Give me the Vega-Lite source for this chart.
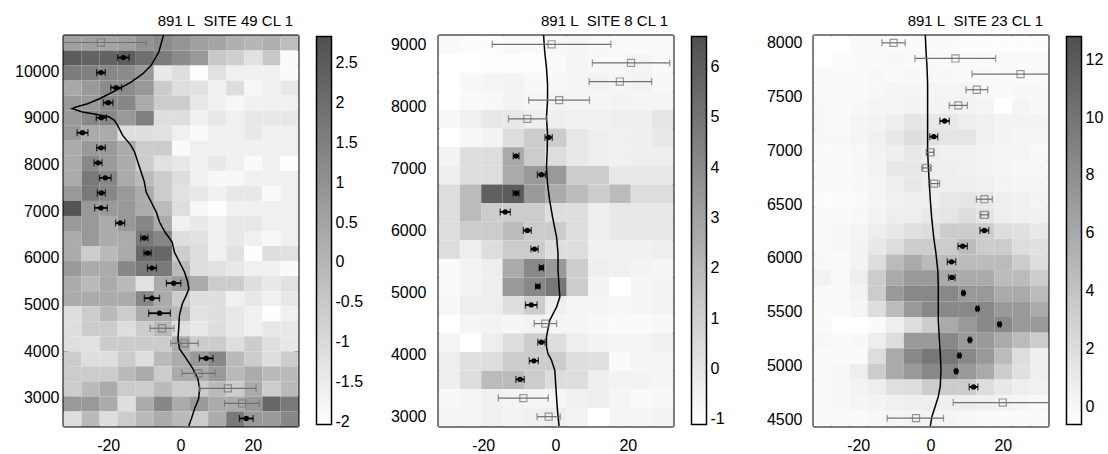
{
"$schema":"https://vega.github.io/schema/vega-lite/v6.json",
"padding":{"left":14,"top":14,"right":0,"bottom":0},
"config":{"font":"Liberation Sans","view":{"stroke":null},
"axis":{"domain":true,"domainColor":"black","domainWidth":2,"grid":false,"tickColor":"black","tickSize":-4,"tickWidth":1.2,"labelFont":"Liberation Sans","labelFontSize":16,"labelColor":"black","zindex":1},
"title":{"fontSize":15,"fontWeight":"normal","anchor":"end","frame":"group","offset":5,"color":"black","font":"Liberation Sans","dx":-5}},
"bounds":"flush","spacing":140,
"resolve":{"scale":{"color":"independent"},"legend":{"color":"independent"}},
"datasets":{
"h1":[
{"x":-30,"y":10618.5,"v":0.6},{"x":-25,"y":10618.5,"v":0.6},{"x":-20,"y":10618.5,"v":0.5},{"x":-15,"y":10618.5,"v":0.6},{"x":-10,"y":10618.5,"v":1.0},{"x":-5,"y":10618.5,"v":1.2},{"x":0,"y":10618.5,"v":0.9},{"x":5,"y":10618.5,"v":0.6},{"x":10,"y":10618.5,"v":0.5},{"x":15,"y":10618.5,"v":0.2},{"x":20,"y":10618.5,"v":0.0},{"x":25,"y":10618.5,"v":0.2},{"x":30,"y":10618.5,"v":-0.2},
{"x":-30,"y":10296,"v":2.5},{"x":-25,"y":10296,"v":2.3},{"x":-20,"y":10296,"v":2.3},{"x":-15,"y":10296,"v":2.4},{"x":-10,"y":10296,"v":2.0},{"x":-5,"y":10296,"v":1.6},{"x":0,"y":10296,"v":1.2},{"x":5,"y":10296,"v":0.8},{"x":10,"y":10296,"v":-0.5},{"x":15,"y":10296,"v":-0.7},{"x":20,"y":10296,"v":-1.2},{"x":25,"y":10296,"v":-0.5},{"x":30,"y":10296,"v":-1.9},
{"x":-30,"y":9973.5,"v":1.6},{"x":-25,"y":9973.5,"v":1.5},{"x":-20,"y":9973.5,"v":1.3},{"x":-15,"y":9973.5,"v":1.2},{"x":-10,"y":9973.5,"v":0.8},{"x":-5,"y":9973.5,"v":-1.4},{"x":0,"y":9973.5,"v":-1.1},{"x":5,"y":9973.5,"v":-2.0},{"x":10,"y":9973.5,"v":-1.2},{"x":15,"y":9973.5,"v":-1.6},{"x":20,"y":9973.5,"v":-1.6},{"x":25,"y":9973.5,"v":-1.6},{"x":30,"y":9973.5,"v":-1.9},
{"x":-30,"y":9651,"v":0.4},{"x":-25,"y":9651,"v":0.8},{"x":-20,"y":9651,"v":1.2},{"x":-15,"y":9651,"v":1.2},{"x":-10,"y":9651,"v":0.8},{"x":-5,"y":9651,"v":-0.6},{"x":0,"y":9651,"v":-1.1},{"x":5,"y":9651,"v":-1.2},{"x":10,"y":9651,"v":-1.6},{"x":15,"y":9651,"v":-1.1},{"x":20,"y":9651,"v":-1.8},{"x":25,"y":9651,"v":-1.6},{"x":30,"y":9651,"v":-1.4},
{"x":-30,"y":9328.5,"v":0.8},{"x":-25,"y":9328.5,"v":0.8},{"x":-20,"y":9328.5,"v":1.3},{"x":-15,"y":9328.5,"v":1.3},{"x":-10,"y":9328.5,"v":0.3},{"x":-5,"y":9328.5,"v":-0.6},{"x":0,"y":9328.5,"v":-0.6},{"x":5,"y":9328.5,"v":-1.4},{"x":10,"y":9328.5,"v":-1.6},{"x":15,"y":9328.5,"v":-1.8},{"x":20,"y":9328.5,"v":-1.6},{"x":25,"y":9328.5,"v":-1.6},{"x":30,"y":9328.5,"v":-1.6},
{"x":-30,"y":9006,"v":0.8},{"x":-25,"y":9006,"v":1.3},{"x":-20,"y":9006,"v":1.3},{"x":-15,"y":9006,"v":0.8},{"x":-10,"y":9006,"v":1.5},{"x":-5,"y":9006,"v":-1.1},{"x":0,"y":9006,"v":-1.1},{"x":5,"y":9006,"v":-1.6},{"x":10,"y":9006,"v":-1.4},{"x":15,"y":9006,"v":-1.6},{"x":20,"y":9006,"v":-1.4},{"x":25,"y":9006,"v":-1.4},{"x":30,"y":9006,"v":-1.4},
{"x":-30,"y":8683.5,"v":0.8},{"x":-25,"y":8683.5,"v":0.3},{"x":-20,"y":8683.5,"v":0.3},{"x":-15,"y":8683.5,"v":-1.1},{"x":-10,"y":8683.5,"v":-1.1},{"x":-5,"y":8683.5,"v":-1.2},{"x":0,"y":8683.5,"v":-1.6},{"x":5,"y":8683.5,"v":-1.9},{"x":10,"y":8683.5,"v":-1.6},{"x":15,"y":8683.5,"v":-1.6},{"x":20,"y":8683.5,"v":-1.4},{"x":25,"y":8683.5,"v":-1.6},{"x":30,"y":8683.5,"v":-1.6},
{"x":-30,"y":8361,"v":0.3},{"x":-25,"y":8361,"v":0.8},{"x":-20,"y":8361,"v":0.8},{"x":-15,"y":8361,"v":0.3},{"x":-10,"y":8361,"v":-0.6},{"x":-5,"y":8361,"v":-0.6},{"x":0,"y":8361,"v":-1.9},{"x":5,"y":8361,"v":-1.6},{"x":10,"y":8361,"v":-1.6},{"x":15,"y":8361,"v":-1.6},{"x":20,"y":8361,"v":-1.6},{"x":25,"y":8361,"v":-1.6},{"x":30,"y":8361,"v":-1.6},
{"x":-30,"y":8038.5,"v":0.3},{"x":-25,"y":8038.5,"v":1.3},{"x":-20,"y":8038.5,"v":0.8},{"x":-15,"y":8038.5,"v":0.3},{"x":-10,"y":8038.5,"v":-0.6},{"x":-5,"y":8038.5,"v":-1.2},{"x":0,"y":8038.5,"v":-1.4},{"x":5,"y":8038.5,"v":-1.6},{"x":10,"y":8038.5,"v":-1.4},{"x":15,"y":8038.5,"v":-1.6},{"x":20,"y":8038.5,"v":-1.9},{"x":25,"y":8038.5,"v":-1.6},{"x":30,"y":8038.5,"v":-2.0},
{"x":-30,"y":7716,"v":0.3},{"x":-25,"y":7716,"v":1.7},{"x":-20,"y":7716,"v":1.3},{"x":-15,"y":7716,"v":0.3},{"x":-10,"y":7716,"v":-0.1},{"x":-5,"y":7716,"v":-0.6},{"x":0,"y":7716,"v":-1.1},{"x":5,"y":7716,"v":-1.6},{"x":10,"y":7716,"v":-1.8},{"x":15,"y":7716,"v":-1.8},{"x":20,"y":7716,"v":-1.6},{"x":25,"y":7716,"v":-1.6},{"x":30,"y":7716,"v":-1.6},
{"x":-30,"y":7393.5,"v":0.8},{"x":-25,"y":7393.5,"v":1.7},{"x":-20,"y":7393.5,"v":1.3},{"x":-15,"y":7393.5,"v":0.8},{"x":-10,"y":7393.5,"v":0.3},{"x":-5,"y":7393.5,"v":-0.6},{"x":0,"y":7393.5,"v":-1.2},{"x":5,"y":7393.5,"v":-1.4},{"x":10,"y":7393.5,"v":-1.6},{"x":15,"y":7393.5,"v":-1.4},{"x":20,"y":7393.5,"v":-1.4},{"x":25,"y":7393.5,"v":-1.9},{"x":30,"y":7393.5,"v":-1.6},
{"x":-30,"y":7071,"v":2.7},{"x":-25,"y":7071,"v":0.8},{"x":-20,"y":7071,"v":0.8},{"x":-15,"y":7071,"v":0.8},{"x":-10,"y":7071,"v":0.3},{"x":-5,"y":7071,"v":-0.1},{"x":0,"y":7071,"v":-1.1},{"x":5,"y":7071,"v":-1.8},{"x":10,"y":7071,"v":-2.0},{"x":15,"y":7071,"v":-1.6},{"x":20,"y":7071,"v":-1.6},{"x":25,"y":7071,"v":-1.6},{"x":30,"y":7071,"v":-1.6},
{"x":-30,"y":6748.5,"v":0.8},{"x":-25,"y":6748.5,"v":0.8},{"x":-20,"y":6748.5,"v":0.3},{"x":-15,"y":6748.5,"v":0.8},{"x":-10,"y":6748.5,"v":1.3},{"x":-5,"y":6748.5,"v":0.3},{"x":0,"y":6748.5,"v":-1.6},{"x":5,"y":6748.5,"v":-1.4},{"x":10,"y":6748.5,"v":-1.6},{"x":15,"y":6748.5,"v":-1.4},{"x":20,"y":6748.5,"v":-1.4},{"x":25,"y":6748.5,"v":-1.6},{"x":30,"y":6748.5,"v":-1.6},
{"x":-30,"y":6426,"v":0.3},{"x":-25,"y":6426,"v":0.8},{"x":-20,"y":6426,"v":0.3},{"x":-15,"y":6426,"v":0.3},{"x":-10,"y":6426,"v":1.7},{"x":-5,"y":6426,"v":1.3},{"x":0,"y":6426,"v":-1.1},{"x":5,"y":6426,"v":-1.2},{"x":10,"y":6426,"v":-1.6},{"x":15,"y":6426,"v":-1.4},{"x":20,"y":6426,"v":-1.6},{"x":25,"y":6426,"v":-1.8},{"x":30,"y":6426,"v":-1.6},
{"x":-30,"y":6103.5,"v":0.3},{"x":-25,"y":6103.5,"v":-0.6},{"x":-20,"y":6103.5,"v":-0.1},{"x":-15,"y":6103.5,"v":0.3},{"x":-10,"y":6103.5,"v":2.2},{"x":-5,"y":6103.5,"v":2.2},{"x":0,"y":6103.5,"v":-0.6},{"x":5,"y":6103.5,"v":-1.1},{"x":10,"y":6103.5,"v":-1.6},{"x":15,"y":6103.5,"v":-1.2},{"x":20,"y":6103.5,"v":-2.0},{"x":25,"y":6103.5,"v":-1.1},{"x":30,"y":6103.5,"v":-1.2},
{"x":-30,"y":5781,"v":0.8},{"x":-25,"y":5781,"v":0.3},{"x":-20,"y":5781,"v":0.3},{"x":-15,"y":5781,"v":1.3},{"x":-10,"y":5781,"v":1.7},{"x":-5,"y":5781,"v":1.7},{"x":0,"y":5781,"v":-0.1},{"x":5,"y":5781,"v":-1.1},{"x":10,"y":5781,"v":-1.2},{"x":15,"y":5781,"v":-1.4},{"x":20,"y":5781,"v":-1.6},{"x":25,"y":5781,"v":-1.6},{"x":30,"y":5781,"v":-1.9},
{"x":-30,"y":5458.5,"v":0.3},{"x":-25,"y":5458.5,"v":-0.1},{"x":-20,"y":5458.5,"v":0.3},{"x":-15,"y":5458.5,"v":-0.1},{"x":-10,"y":5458.5,"v":-1.2},{"x":-5,"y":5458.5,"v":0.3},{"x":0,"y":5458.5,"v":0.8},{"x":5,"y":5458.5,"v":0.3},{"x":10,"y":5458.5,"v":-0.6},{"x":15,"y":5458.5,"v":-0.6},{"x":20,"y":5458.5,"v":-1.1},{"x":25,"y":5458.5,"v":-1.4},{"x":30,"y":5458.5,"v":-1.2},
{"x":-30,"y":5136,"v":0.3},{"x":-25,"y":5136,"v":0.3},{"x":-20,"y":5136,"v":0.3},{"x":-15,"y":5136,"v":0.3},{"x":-10,"y":5136,"v":1.3},{"x":-5,"y":5136,"v":0.3},{"x":0,"y":5136,"v":-0.6},{"x":5,"y":5136,"v":-1.1},{"x":10,"y":5136,"v":-1.1},{"x":15,"y":5136,"v":-1.6},{"x":20,"y":5136,"v":-1.4},{"x":25,"y":5136,"v":-1.6},{"x":30,"y":5136,"v":-1.4},
{"x":-30,"y":4813.5,"v":-1.1},{"x":-25,"y":4813.5,"v":-0.6},{"x":-20,"y":4813.5,"v":-0.1},{"x":-15,"y":4813.5,"v":-0.6},{"x":-10,"y":4813.5,"v":0.3},{"x":-5,"y":4813.5,"v":0.3},{"x":0,"y":4813.5,"v":-0.1},{"x":5,"y":4813.5,"v":-1.2},{"x":10,"y":4813.5,"v":-1.1},{"x":15,"y":4813.5,"v":-1.4},{"x":20,"y":4813.5,"v":-1.6},{"x":25,"y":4813.5,"v":-2.0},{"x":30,"y":4813.5,"v":-1.6},
{"x":-30,"y":4491,"v":-1.1},{"x":-25,"y":4491,"v":-0.6},{"x":-20,"y":4491,"v":-0.6},{"x":-15,"y":4491,"v":-1.1},{"x":-10,"y":4491,"v":-0.6},{"x":-5,"y":4491,"v":-0.1},{"x":0,"y":4491,"v":-1.1},{"x":5,"y":4491,"v":-1.4},{"x":10,"y":4491,"v":-1.1},{"x":15,"y":4491,"v":-1.4},{"x":20,"y":4491,"v":-1.6},{"x":25,"y":4491,"v":-1.4},{"x":30,"y":4491,"v":-1.4},
{"x":-30,"y":4168.5,"v":-1.1},{"x":-25,"y":4168.5,"v":-1.2},{"x":-20,"y":4168.5,"v":-0.6},{"x":-15,"y":4168.5,"v":-0.6},{"x":-10,"y":4168.5,"v":-0.6},{"x":-5,"y":4168.5,"v":-0.6},{"x":0,"y":4168.5,"v":0.3},{"x":5,"y":4168.5,"v":-0.6},{"x":10,"y":4168.5,"v":-0.6},{"x":15,"y":4168.5,"v":-1.1},{"x":20,"y":4168.5,"v":-0.6},{"x":25,"y":4168.5,"v":-1.1},{"x":30,"y":4168.5,"v":-1.4},
{"x":-30,"y":3846,"v":-0.6},{"x":-25,"y":3846,"v":-1.1},{"x":-20,"y":3846,"v":-1.1},{"x":-15,"y":3846,"v":-0.6},{"x":-10,"y":3846,"v":-1.1},{"x":-5,"y":3846,"v":-0.1},{"x":0,"y":3846,"v":0.3},{"x":5,"y":3846,"v":0.8},{"x":10,"y":3846,"v":1.3},{"x":15,"y":3846,"v":-0.1},{"x":20,"y":3846,"v":-0.6},{"x":25,"y":3846,"v":-1.1},{"x":30,"y":3846,"v":-0.6},
{"x":-30,"y":3523.5,"v":-0.6},{"x":-25,"y":3523.5,"v":-0.6},{"x":-20,"y":3523.5,"v":-0.6},{"x":-15,"y":3523.5,"v":-0.1},{"x":-10,"y":3523.5,"v":0.3},{"x":-5,"y":3523.5,"v":-0.6},{"x":0,"y":3523.5,"v":0.3},{"x":5,"y":3523.5,"v":0.3},{"x":10,"y":3523.5,"v":0.8},{"x":15,"y":3523.5,"v":-0.1},{"x":20,"y":3523.5,"v":0.3},{"x":25,"y":3523.5,"v":-0.1},{"x":30,"y":3523.5,"v":-0.1},
{"x":-30,"y":3201,"v":-0.6},{"x":-25,"y":3201,"v":-0.1},{"x":-20,"y":3201,"v":0.3},{"x":-15,"y":3201,"v":-0.6},{"x":-10,"y":3201,"v":-0.6},{"x":-5,"y":3201,"v":-0.1},{"x":0,"y":3201,"v":-0.6},{"x":5,"y":3201,"v":-0.6},{"x":10,"y":3201,"v":-0.1},{"x":15,"y":3201,"v":-0.6},{"x":20,"y":3201,"v":0.3},{"x":25,"y":3201,"v":-0.6},{"x":30,"y":3201,"v":-0.1},
{"x":-30,"y":2878.5,"v":0.8},{"x":-25,"y":2878.5,"v":0.8},{"x":-20,"y":2878.5,"v":0.3},{"x":-15,"y":2878.5,"v":-1.1},{"x":-10,"y":2878.5,"v":0.3},{"x":-5,"y":2878.5,"v":1.3},{"x":0,"y":2878.5,"v":0.3},{"x":5,"y":2878.5,"v":0.8},{"x":10,"y":2878.5,"v":0.3},{"x":15,"y":2878.5,"v":0.3},{"x":20,"y":2878.5,"v":0.8},{"x":25,"y":2878.5,"v":2.2},{"x":30,"y":2878.5,"v":1.7},
{"x":-30,"y":2556,"v":-1.1},{"x":-25,"y":2556,"v":-0.1},{"x":-20,"y":2556,"v":-1.1},{"x":-15,"y":2556,"v":-0.6},{"x":-10,"y":2556,"v":-0.1},{"x":-5,"y":2556,"v":0.3},{"x":0,"y":2556,"v":-0.1},{"x":5,"y":2556,"v":-0.6},{"x":10,"y":2556,"v":0.3},{"x":15,"y":2556,"v":1.7},{"x":20,"y":2556,"v":0.8},{"x":25,"y":2556,"v":0.8},{"x":30,"y":2556,"v":1.3}
],
"p1":[
{"y":10618.5,"x":-22.0,"lo":-34.5,"hi":-9.5,"t":"o"},
{"y":10296,"x":-15.8,"lo":-17.4,"hi":-14.2,"t":"f"},
{"y":9973.5,"x":-22.0,"lo":-23.2,"hi":-20.8,"t":"f"},
{"y":9651,"x":-17.8,"lo":-19.3,"hi":-16.3,"t":"f"},
{"y":9328.5,"x":-20.0,"lo":-21.3,"hi":-18.7,"t":"f"},
{"y":9006,"x":-21.9,"lo":-23.3,"hi":-20.5,"t":"f"},
{"y":8683.5,"x":-27.1,"lo":-28.6,"hi":-25.6,"t":"f"},
{"y":8361,"x":-22.0,"lo":-23.2,"hi":-20.8,"t":"f"},
{"y":8038.5,"x":-22.8,"lo":-23.9,"hi":-21.7,"t":"f"},
{"y":7716,"x":-20.8,"lo":-22.4,"hi":-19.2,"t":"f"},
{"y":7393.5,"x":-21.9,"lo":-23.0,"hi":-20.8,"t":"f"},
{"y":7071,"x":-22.0,"lo":-23.75,"hi":-20.25,"t":"f"},
{"y":6748.5,"x":-16.7,"lo":-17.95,"hi":-15.45,"t":"f"},
{"y":6426,"x":-10.0,"lo":-11.0,"hi":-9.0,"t":"f"},
{"y":6103.5,"x":-9.1,"lo":-10.1,"hi":-8.1,"t":"f"},
{"y":5781,"x":-7.9,"lo":-9.15,"hi":-6.65,"t":"f"},
{"y":5458.5,"x":-1.9,"lo":-3.9,"hi":0.1,"t":"f"},
{"y":5136,"x":-7.9,"lo":-10.0,"hi":-5.8,"t":"f"},
{"y":4813.5,"x":-5.8,"lo":-8.8,"hi":-2.8,"t":"f"},
{"y":4491,"x":-5.1,"lo":-8.4,"hi":-1.8,"t":"o"},
{"y":4168.5,"x":1.1,"lo":-2.7,"hi":4.9,"t":"o"},
{"y":3846,"x":7.1,"lo":5.2,"hi":9.0,"t":"f"},
{"y":3523.5,"x":5.0,"lo":0.4,"hi":9.6,"t":"o"},
{"y":3201,"x":13.1,"lo":5.3,"hi":20.9,"t":"o"},
{"y":2878.5,"x":17.0,"lo":12.2,"hi":21.8,"t":"o"},
{"y":2556,"x":18.2,"lo":16.3,"hi":20.1,"t":"f"}
],
"c1":[
{"y":10780,"x":-4.7},{"y":10415,"x":-6.0},{"y":10129,"x":-8.1},{"y":9950,"x":-10.4},{"y":9771,"x":-13.7},{"y":9628,"x":-16.9},{"y":9413,"x":-22.4},{"y":9306,"x":-25.7},{"y":9235,"x":-28.9},{"y":9199,"x":-30.0},{"y":9128,"x":-27.1},{"y":9078,"x":-23.4},{"y":9021,"x":-19.7},{"y":8950,"x":-18.3},{"y":8842,"x":-17.4},{"y":8627,"x":-16.0},{"y":8413,"x":-13.7},{"y":8270,"x":-12.7},{"y":8056,"x":-11.8},{"y":7841,"x":-10.9},{"y":7627,"x":-10.0},{"y":7412,"x":-9.5},{"y":7198,"x":-8.1},{"y":6983,"x":-6.7},{"y":6769,"x":-5.8},{"y":6554,"x":-4.3},{"y":6340,"x":-2.3},{"y":6125,"x":-1.7},{"y":5911,"x":-0.3},{"y":5697,"x":1.1},{"y":5482,"x":2.0},{"y":5339,"x":2.3},{"y":5196,"x":1.6},{"y":5017,"x":0.5},{"y":4768,"x":-0.3},{"y":4482,"x":-0.5},{"y":4267,"x":-0.7},{"y":4053,"x":-0.3},{"y":3838,"x":1.6},{"y":3624,"x":3.4},{"y":3409,"x":4.8},{"y":3195,"x":5.3},{"y":2980,"x":5.0},{"y":2766,"x":3.9},{"y":2551,"x":3.0},{"y":2394,"x":2.3}
],
"h2":[
{"x":-29.545,"y":9000,"v":-0.88},{"x":-23.636,"y":9000,"v":-0.97},{"x":-17.727,"y":9000,"v":-0.97},{"x":-11.818,"y":9000,"v":-0.79},{"x":-5.909,"y":9000,"v":-0.88},{"x":0,"y":9000,"v":-0.79},{"x":5.909,"y":9000,"v":-0.66},{"x":11.818,"y":9000,"v":-0.79},{"x":17.727,"y":9000,"v":-0.88},{"x":23.636,"y":9000,"v":-0.88},{"x":29.545,"y":9000,"v":-0.88},
{"x":-29.545,"y":8700,"v":-1.1},{"x":-23.636,"y":8700,"v":-1.1},{"x":-17.727,"y":8700,"v":-1.0},{"x":-11.818,"y":8700,"v":-1.0},{"x":-5.909,"y":8700,"v":-1.0},{"x":0,"y":8700,"v":-0.88},{"x":5.909,"y":8700,"v":-0.66},{"x":11.818,"y":8700,"v":-0.79},{"x":17.727,"y":8700,"v":-0.79},{"x":23.636,"y":8700,"v":-0.66},{"x":29.545,"y":8700,"v":-0.88},
{"x":-29.545,"y":8400,"v":-1.1},{"x":-23.636,"y":8400,"v":-0.79},{"x":-17.727,"y":8400,"v":-0.66},{"x":-11.818,"y":8400,"v":-0.57},{"x":-5.909,"y":8400,"v":-0.79},{"x":0,"y":8400,"v":-0.79},{"x":5.909,"y":8400,"v":-0.66},{"x":11.818,"y":8400,"v":-0.57},{"x":17.727,"y":8400,"v":-0.66},{"x":23.636,"y":8400,"v":-0.57},{"x":29.545,"y":8400,"v":-0.79},
{"x":-29.545,"y":8100,"v":-1.1},{"x":-23.636,"y":8100,"v":-0.88},{"x":-17.727,"y":8100,"v":-0.79},{"x":-11.818,"y":8100,"v":-0.57},{"x":-5.909,"y":8100,"v":-0.66},{"x":0,"y":8100,"v":-0.57},{"x":5.909,"y":8100,"v":-0.66},{"x":11.818,"y":8100,"v":-0.66},{"x":17.727,"y":8100,"v":-0.57},{"x":23.636,"y":8100,"v":-0.66},{"x":29.545,"y":8100,"v":-0.66},
{"x":-29.545,"y":7800,"v":-0.79},{"x":-23.636,"y":7800,"v":-0.44},{"x":-17.727,"y":7800,"v":-0.09},{"x":-11.818,"y":7800,"v":-0.09},{"x":-5.909,"y":7800,"v":-0.35},{"x":0,"y":7800,"v":-0.35},{"x":5.909,"y":7800,"v":-0.44},{"x":11.818,"y":7800,"v":-0.44},{"x":17.727,"y":7800,"v":-0.35},{"x":23.636,"y":7800,"v":-0.35},{"x":29.545,"y":7800,"v":0.04},
{"x":-29.545,"y":7500,"v":-1.1},{"x":-23.636,"y":7500,"v":-0.79},{"x":-17.727,"y":7500,"v":-0.57},{"x":-11.818,"y":7500,"v":0.4},{"x":-5.909,"y":7500,"v":1.14},{"x":0,"y":7500,"v":1.14},{"x":5.909,"y":7500,"v":-0.09},{"x":11.818,"y":7500,"v":-0.35},{"x":17.727,"y":7500,"v":-0.44},{"x":23.636,"y":7500,"v":-0.35},{"x":29.545,"y":7500,"v":-0.09},
{"x":-29.545,"y":7200,"v":-0.57},{"x":-23.636,"y":7200,"v":0.4},{"x":-17.727,"y":7200,"v":0.4},{"x":-11.818,"y":7200,"v":2.64},{"x":-5.909,"y":7200,"v":1.14},{"x":0,"y":7200,"v":0.4},{"x":5.909,"y":7200,"v":-0.09},{"x":11.818,"y":7200,"v":-0.35},{"x":17.727,"y":7200,"v":-0.44},{"x":23.636,"y":7200,"v":-0.35},{"x":29.545,"y":7200,"v":-0.35},
{"x":-29.545,"y":6900,"v":-0.35},{"x":-23.636,"y":6900,"v":0.4},{"x":-17.727,"y":6900,"v":0.4},{"x":-11.818,"y":6900,"v":2.64},{"x":-5.909,"y":6900,"v":3.39},{"x":0,"y":6900,"v":3.39},{"x":5.909,"y":6900,"v":1.14},{"x":11.818,"y":6900,"v":1.14},{"x":17.727,"y":6900,"v":-0.09},{"x":23.636,"y":6900,"v":-0.09},{"x":29.545,"y":6900,"v":-0.09},
{"x":-29.545,"y":6600,"v":0.4},{"x":-23.636,"y":6600,"v":1.89},{"x":-17.727,"y":6600,"v":5.9},{"x":-11.818,"y":6600,"v":6.1},{"x":-5.909,"y":6600,"v":3.39},{"x":0,"y":6600,"v":2.64},{"x":5.909,"y":6600,"v":1.89},{"x":11.818,"y":6600,"v":1.14},{"x":17.727,"y":6600,"v":1.89},{"x":23.636,"y":6600,"v":0.4},{"x":29.545,"y":6600,"v":0.4},
{"x":-29.545,"y":6300,"v":0.4},{"x":-23.636,"y":6300,"v":1.89},{"x":-17.727,"y":6300,"v":1.14},{"x":-11.818,"y":6300,"v":1.14},{"x":-5.909,"y":6300,"v":1.14},{"x":0,"y":6300,"v":0.4},{"x":5.909,"y":6300,"v":0.4},{"x":11.818,"y":6300,"v":-0.35},{"x":17.727,"y":6300,"v":-0.09},{"x":23.636,"y":6300,"v":-0.09},{"x":29.545,"y":6300,"v":-0.09},
{"x":-29.545,"y":6000,"v":0.4},{"x":-23.636,"y":6000,"v":1.14},{"x":-17.727,"y":6000,"v":1.14},{"x":-11.818,"y":6000,"v":1.89},{"x":-5.909,"y":6000,"v":1.14},{"x":0,"y":6000,"v":1.14},{"x":5.909,"y":6000,"v":0.4},{"x":11.818,"y":6000,"v":-0.35},{"x":17.727,"y":6000,"v":-0.09},{"x":23.636,"y":6000,"v":-0.09},{"x":29.545,"y":6000,"v":-0.09},
{"x":-29.545,"y":5700,"v":0.4},{"x":-23.636,"y":5700,"v":-0.35},{"x":-17.727,"y":5700,"v":0.4},{"x":-11.818,"y":5700,"v":1.14},{"x":-5.909,"y":5700,"v":1.14},{"x":0,"y":5700,"v":0.4},{"x":5.909,"y":5700,"v":0.4},{"x":11.818,"y":5700,"v":-0.44},{"x":17.727,"y":5700,"v":-0.44},{"x":23.636,"y":5700,"v":-0.44},{"x":29.545,"y":5700,"v":-0.35},
{"x":-29.545,"y":5400,"v":-0.88},{"x":-23.636,"y":5400,"v":-0.57},{"x":-17.727,"y":5400,"v":-0.35},{"x":-11.818,"y":5400,"v":2.64},{"x":-5.909,"y":5400,"v":4.14},{"x":0,"y":5400,"v":3.39},{"x":5.909,"y":5400,"v":1.14},{"x":11.818,"y":5400,"v":-0.35},{"x":17.727,"y":5400,"v":-0.44},{"x":23.636,"y":5400,"v":-0.57},{"x":29.545,"y":5400,"v":-0.66},
{"x":-29.545,"y":5100,"v":-0.88},{"x":-23.636,"y":5100,"v":-0.57},{"x":-17.727,"y":5100,"v":-0.35},{"x":-11.818,"y":5100,"v":3.39},{"x":-5.909,"y":5100,"v":4.14},{"x":0,"y":5100,"v":4.88},{"x":5.909,"y":5100,"v":1.14},{"x":11.818,"y":5100,"v":-0.57},{"x":17.727,"y":5100,"v":-1.1},{"x":23.636,"y":5100,"v":-0.66},{"x":29.545,"y":5100,"v":-0.57},
{"x":-29.545,"y":4800,"v":-0.79},{"x":-23.636,"y":4800,"v":-0.35},{"x":-17.727,"y":4800,"v":-0.35},{"x":-11.818,"y":4800,"v":0.4},{"x":-5.909,"y":4800,"v":1.14},{"x":0,"y":4800,"v":-0.35},{"x":5.909,"y":4800,"v":-0.66},{"x":11.818,"y":4800,"v":-0.66},{"x":17.727,"y":4800,"v":-0.79},{"x":23.636,"y":4800,"v":-0.66},{"x":29.545,"y":4800,"v":-0.57},
{"x":-29.545,"y":4500,"v":-1.1},{"x":-23.636,"y":4500,"v":-0.66},{"x":-17.727,"y":4500,"v":-0.57},{"x":-11.818,"y":4500,"v":-0.66},{"x":-5.909,"y":4500,"v":-0.57},{"x":0,"y":4500,"v":-0.66},{"x":5.909,"y":4500,"v":-0.66},{"x":11.818,"y":4500,"v":-0.79},{"x":17.727,"y":4500,"v":-0.88},{"x":23.636,"y":4500,"v":-0.88},{"x":29.545,"y":4500,"v":-0.79},
{"x":-29.545,"y":4200,"v":-0.66},{"x":-23.636,"y":4200,"v":-1.1},{"x":-17.727,"y":4200,"v":-0.35},{"x":-11.818,"y":4200,"v":0.4},{"x":-5.909,"y":4200,"v":1.14},{"x":0,"y":4200,"v":0.4},{"x":5.909,"y":4200,"v":-0.35},{"x":11.818,"y":4200,"v":-0.57},{"x":17.727,"y":4200,"v":-0.66},{"x":23.636,"y":4200,"v":-0.66},{"x":29.545,"y":4200,"v":-0.44},
{"x":-29.545,"y":3900,"v":-0.35},{"x":-23.636,"y":3900,"v":0.26},{"x":-17.727,"y":3900,"v":0.4},{"x":-11.818,"y":3900,"v":1.14},{"x":-5.909,"y":3900,"v":1.14},{"x":0,"y":3900,"v":1.14},{"x":5.909,"y":3900,"v":0.4},{"x":11.818,"y":3900,"v":0.26},{"x":17.727,"y":3900,"v":-0.88},{"x":23.636,"y":3900,"v":-0.66},{"x":29.545,"y":3900,"v":-0.66},
{"x":-29.545,"y":3600,"v":-0.35},{"x":-23.636,"y":3600,"v":0.4},{"x":-17.727,"y":3600,"v":1.89},{"x":-11.818,"y":3600,"v":1.89},{"x":-5.909,"y":3600,"v":1.14},{"x":0,"y":3600,"v":0.4},{"x":5.909,"y":3600,"v":0.4},{"x":11.818,"y":3600,"v":-0.35},{"x":17.727,"y":3600,"v":-0.57},{"x":23.636,"y":3600,"v":-0.57},{"x":29.545,"y":3600,"v":-0.66},
{"x":-29.545,"y":3300,"v":-0.79},{"x":-23.636,"y":3300,"v":-0.66},{"x":-17.727,"y":3300,"v":-0.44},{"x":-11.818,"y":3300,"v":-0.57},{"x":-5.909,"y":3300,"v":-0.66},{"x":0,"y":3300,"v":-0.66},{"x":5.909,"y":3300,"v":-0.44},{"x":11.818,"y":3300,"v":-0.35},{"x":17.727,"y":3300,"v":-0.66},{"x":23.636,"y":3300,"v":-0.88},{"x":29.545,"y":3300,"v":-0.79},
{"x":-29.545,"y":3000,"v":-0.66},{"x":-23.636,"y":3000,"v":-0.66},{"x":-17.727,"y":3000,"v":-0.44},{"x":-11.818,"y":3000,"v":-0.57},{"x":-5.909,"y":3000,"v":-0.44},{"x":0,"y":3000,"v":-0.35},{"x":5.909,"y":3000,"v":-0.57},{"x":11.818,"y":3000,"v":-1.1},{"x":17.727,"y":3000,"v":-0.66},{"x":23.636,"y":3000,"v":-0.66},{"x":29.545,"y":3000,"v":-0.57}
],
"p2":[
{"y":9000,"x":-1.1,"lo":-17.5,"hi":15.3,"t":"o"},
{"y":8700,"x":20.9,"lo":10.2,"hi":31.6,"t":"o"},
{"y":8400,"x":17.8,"lo":9.3,"hi":26.6,"t":"o"},
{"y":8100,"x":1.0,"lo":-7.4,"hi":9.4,"t":"o"},
{"y":7800,"x":-7.8,"lo":-13.0,"hi":-2.5,"t":"o"},
{"y":7500,"x":-1.9,"lo":-2.9,"hi":-0.9,"t":"f"},
{"y":7200,"x":-10.9,"lo":-11.7,"hi":-10.1,"t":"f"},
{"y":6900,"x":-3.9,"lo":-5.0,"hi":-2.8,"t":"f"},
{"y":6600,"x":-10.9,"lo":-11.7,"hi":-10.1,"t":"f"},
{"y":6300,"x":-13.9,"lo":-15.3,"hi":-12.5,"t":"f"},
{"y":6000,"x":-7.8,"lo":-8.9,"hi":-6.7,"t":"f"},
{"y":5700,"x":-5.8,"lo":-6.8,"hi":-4.8,"t":"f"},
{"y":5400,"x":-3.9,"lo":-4.5,"hi":-3.3,"t":"f"},
{"y":5100,"x":-4.9,"lo":-5.5,"hi":-4.3,"t":"f"},
{"y":4800,"x":-6.7,"lo":-8.3,"hi":-5.1,"t":"f"},
{"y":4500,"x":-2.8,"lo":-5.9,"hi":0.3,"t":"o"},
{"y":4200,"x":-3.9,"lo":-4.9,"hi":-2.9,"t":"f"},
{"y":3900,"x":-6.0,"lo":-7.25,"hi":-4.75,"t":"f"},
{"y":3600,"x":-9.8,"lo":-10.95,"hi":-8.65,"t":"f"},
{"y":3300,"x":-8.9,"lo":-15.8,"hi":-2.0,"t":"o"},
{"y":3000,"x":-1.9,"lo":-5.1,"hi":1.3,"t":"o"}
],
"c2":[
{"y":9150,"x":-3.3},{"y":8892,"x":-3.0},{"y":8624,"x":-2.5},{"y":8357,"x":-2.2},{"y":8089,"x":-2.2},{"y":7820,"x":-2.5},{"y":7553,"x":-2.2},{"y":7285,"x":-2.3},{"y":7017,"x":-2.5},{"y":6750,"x":-2.2},{"y":6481,"x":-1.6},{"y":6213,"x":-0.8},{"y":5892,"x":0.3},{"y":5625,"x":0.7},{"y":5356,"x":0.7},{"y":5088,"x":1.0},{"y":4927,"x":1.2},{"y":4767,"x":0.3},{"y":4553,"x":-1.6},{"y":4285,"x":-2.5},{"y":4124,"x":-2.5},{"y":4018,"x":-2.1},{"y":3910,"x":-1.1},{"y":3750,"x":-0.2},{"y":3482,"x":0.1},{"y":3214,"x":0.4},{"y":3000,"x":0.7},{"y":2850,"x":1.0}
],
"h3":[
{"x":-30,"y":8000,"v":-0.6},{"x":-25,"y":8000,"v":-0.6},{"x":-20,"y":8000,"v":-0.22},{"x":-15,"y":8000,"v":-0.22},{"x":-10,"y":8000,"v":-0.22},{"x":-5,"y":8000,"v":-0.22},{"x":0,"y":8000,"v":-0.22},{"x":5,"y":8000,"v":-0.22},{"x":10,"y":8000,"v":-0.37},{"x":15,"y":8000,"v":-0.37},{"x":20,"y":8000,"v":-0.37},{"x":25,"y":8000,"v":-0.37},{"x":30,"y":8000,"v":-0.37},
{"x":-30,"y":7854.5,"v":-0.6},{"x":-25,"y":7854.5,"v":-0.37},{"x":-20,"y":7854.5,"v":-0.22},{"x":-15,"y":7854.5,"v":-0.22},{"x":-10,"y":7854.5,"v":-0.06},{"x":-5,"y":7854.5,"v":-0.22},{"x":0,"y":7854.5,"v":-0.06},{"x":5,"y":7854.5,"v":-0.22},{"x":10,"y":7854.5,"v":-0.22},{"x":15,"y":7854.5,"v":-0.22},{"x":20,"y":7854.5,"v":-0.22},{"x":25,"y":7854.5,"v":-0.22},{"x":30,"y":7854.5,"v":-0.22},
{"x":-30,"y":7709,"v":-0.22},{"x":-25,"y":7709,"v":-0.22},{"x":-20,"y":7709,"v":-0.22},{"x":-15,"y":7709,"v":-0.06},{"x":-10,"y":7709,"v":-0.22},{"x":-5,"y":7709,"v":-0.06},{"x":0,"y":7709,"v":-0.06},{"x":5,"y":7709,"v":-0.06},{"x":10,"y":7709,"v":-0.22},{"x":15,"y":7709,"v":-0.06},{"x":20,"y":7709,"v":-0.22},{"x":25,"y":7709,"v":-0.22},{"x":30,"y":7709,"v":-0.22},
{"x":-30,"y":7563.5,"v":-0.22},{"x":-25,"y":7563.5,"v":-0.22},{"x":-20,"y":7563.5,"v":-0.22},{"x":-15,"y":7563.5,"v":-0.06},{"x":-10,"y":7563.5,"v":0.17},{"x":-5,"y":7563.5,"v":0.17},{"x":0,"y":7563.5,"v":0.17},{"x":5,"y":7563.5,"v":0.17},{"x":10,"y":7563.5,"v":0.17},{"x":15,"y":7563.5,"v":-0.06},{"x":20,"y":7563.5,"v":-0.22},{"x":25,"y":7563.5,"v":-0.06},{"x":30,"y":7563.5,"v":-0.06},
{"x":-30,"y":7418,"v":-0.06},{"x":-25,"y":7418,"v":-0.22},{"x":-20,"y":7418,"v":-0.06},{"x":-15,"y":7418,"v":0.17},{"x":-10,"y":7418,"v":0.17},{"x":-5,"y":7418,"v":0.32},{"x":0,"y":7418,"v":0.32},{"x":5,"y":7418,"v":0.32},{"x":10,"y":7418,"v":0.32},{"x":15,"y":7418,"v":0.17},{"x":20,"y":7418,"v":-0.6},{"x":25,"y":7418,"v":0.17},{"x":30,"y":7418,"v":-0.06},
{"x":-30,"y":7272.5,"v":-0.06},{"x":-25,"y":7272.5,"v":-0.22},{"x":-20,"y":7272.5,"v":0.17},{"x":-15,"y":7272.5,"v":0.32},{"x":-10,"y":7272.5,"v":0.7},{"x":-5,"y":7272.5,"v":1.39},{"x":0,"y":7272.5,"v":1.16},{"x":5,"y":7272.5,"v":1.16},{"x":10,"y":7272.5,"v":0.7},{"x":15,"y":7272.5,"v":0.55},{"x":20,"y":7272.5,"v":0.32},{"x":25,"y":7272.5,"v":0.32},{"x":30,"y":7272.5,"v":0.32},
{"x":-30,"y":7127,"v":-0.06},{"x":-25,"y":7127,"v":-0.06},{"x":-20,"y":7127,"v":0.17},{"x":-15,"y":7127,"v":0.55},{"x":-10,"y":7127,"v":1.16},{"x":-5,"y":7127,"v":2.0},{"x":0,"y":7127,"v":1.77},{"x":5,"y":7127,"v":1.39},{"x":10,"y":7127,"v":1.39},{"x":15,"y":7127,"v":0.55},{"x":20,"y":7127,"v":0.32},{"x":25,"y":7127,"v":0.17},{"x":30,"y":7127,"v":0.17},
{"x":-30,"y":6981.5,"v":-0.22},{"x":-25,"y":6981.5,"v":-0.22},{"x":-20,"y":6981.5,"v":-0.06},{"x":-15,"y":6981.5,"v":0.32},{"x":-10,"y":6981.5,"v":0.7},{"x":-5,"y":6981.5,"v":1.16},{"x":0,"y":6981.5,"v":0.7},{"x":5,"y":6981.5,"v":0.55},{"x":10,"y":6981.5,"v":0.55},{"x":15,"y":6981.5,"v":0.32},{"x":20,"y":6981.5,"v":0.17},{"x":25,"y":6981.5,"v":0.17},{"x":30,"y":6981.5,"v":-0.06},
{"x":-30,"y":6836,"v":-0.22},{"x":-25,"y":6836,"v":-0.22},{"x":-20,"y":6836,"v":-0.06},{"x":-15,"y":6836,"v":0.32},{"x":-10,"y":6836,"v":1.16},{"x":-5,"y":6836,"v":1.16},{"x":0,"y":6836,"v":0.7},{"x":5,"y":6836,"v":0.7},{"x":10,"y":6836,"v":0.55},{"x":15,"y":6836,"v":0.32},{"x":20,"y":6836,"v":0.17},{"x":25,"y":6836,"v":-0.06},{"x":30,"y":6836,"v":-0.06},
{"x":-30,"y":6690.5,"v":-0.22},{"x":-25,"y":6690.5,"v":-0.22},{"x":-20,"y":6690.5,"v":-0.06},{"x":-15,"y":6690.5,"v":0.17},{"x":-10,"y":6690.5,"v":0.7},{"x":-5,"y":6690.5,"v":1.16},{"x":0,"y":6690.5,"v":0.7},{"x":5,"y":6690.5,"v":0.7},{"x":10,"y":6690.5,"v":0.7},{"x":15,"y":6690.5,"v":0.55},{"x":20,"y":6690.5,"v":0.32},{"x":25,"y":6690.5,"v":0.17},{"x":30,"y":6690.5,"v":0.17},
{"x":-30,"y":6545,"v":-0.37},{"x":-25,"y":6545,"v":-0.37},{"x":-20,"y":6545,"v":-0.22},{"x":-15,"y":6545,"v":0.17},{"x":-10,"y":6545,"v":0.55},{"x":-5,"y":6545,"v":0.7},{"x":0,"y":6545,"v":0.7},{"x":5,"y":6545,"v":1.16},{"x":10,"y":6545,"v":1.39},{"x":15,"y":6545,"v":1.16},{"x":20,"y":6545,"v":0.7},{"x":25,"y":6545,"v":0.55},{"x":30,"y":6545,"v":0.32},
{"x":-30,"y":6399.5,"v":-0.22},{"x":-25,"y":6399.5,"v":-0.22},{"x":-20,"y":6399.5,"v":-0.06},{"x":-15,"y":6399.5,"v":0.32},{"x":-10,"y":6399.5,"v":0.7},{"x":-5,"y":6399.5,"v":0.7},{"x":0,"y":6399.5,"v":1.16},{"x":5,"y":6399.5,"v":1.39},{"x":10,"y":6399.5,"v":2.0},{"x":15,"y":6399.5,"v":1.39},{"x":20,"y":6399.5,"v":0.7},{"x":25,"y":6399.5,"v":0.55},{"x":30,"y":6399.5,"v":0.55},
{"x":-30,"y":6254,"v":-0.22},{"x":-25,"y":6254,"v":-0.06},{"x":-20,"y":6254,"v":0.17},{"x":-15,"y":6254,"v":0.7},{"x":-10,"y":6254,"v":1.16},{"x":-5,"y":6254,"v":1.77},{"x":0,"y":6254,"v":2.0},{"x":5,"y":6254,"v":3.3},{"x":10,"y":6254,"v":3.3},{"x":15,"y":6254,"v":3.3},{"x":20,"y":6254,"v":2.0},{"x":25,"y":6254,"v":1.77},{"x":30,"y":6254,"v":1.16},
{"x":-30,"y":6108.5,"v":-0.22},{"x":-25,"y":6108.5,"v":-0.06},{"x":-20,"y":6108.5,"v":0.32},{"x":-15,"y":6108.5,"v":1.16},{"x":-10,"y":6108.5,"v":2.0},{"x":-5,"y":6108.5,"v":3.3},{"x":0,"y":6108.5,"v":3.3},{"x":5,"y":6108.5,"v":3.3},{"x":10,"y":6108.5,"v":4.6},{"x":15,"y":6108.5,"v":3.3},{"x":20,"y":6108.5,"v":3.3},{"x":25,"y":6108.5,"v":2.0},{"x":30,"y":6108.5,"v":1.77},
{"x":-30,"y":5963,"v":-0.06},{"x":-25,"y":5963,"v":-0.22},{"x":-20,"y":5963,"v":0.32},{"x":-15,"y":5963,"v":2.0},{"x":-10,"y":5963,"v":4.6},{"x":-5,"y":5963,"v":5.9},{"x":0,"y":5963,"v":4.6},{"x":5,"y":5963,"v":4.6},{"x":10,"y":5963,"v":4.6},{"x":15,"y":5963,"v":4.6},{"x":20,"y":5963,"v":4.6},{"x":25,"y":5963,"v":3.3},{"x":30,"y":5963,"v":2.0},
{"x":-30,"y":5817.5,"v":0.32},{"x":-25,"y":5817.5,"v":-0.22},{"x":-20,"y":5817.5,"v":0.7},{"x":-15,"y":5817.5,"v":3.3},{"x":-10,"y":5817.5,"v":5.9},{"x":-5,"y":5817.5,"v":7.2},{"x":0,"y":5817.5,"v":7.2},{"x":5,"y":5817.5,"v":5.9},{"x":10,"y":5817.5,"v":5.9},{"x":15,"y":5817.5,"v":5.9},{"x":20,"y":5817.5,"v":4.6},{"x":25,"y":5817.5,"v":4.6},{"x":30,"y":5817.5,"v":3.3},
{"x":-30,"y":5672,"v":-0.22},{"x":-25,"y":5672,"v":-0.22},{"x":-20,"y":5672,"v":0.32},{"x":-15,"y":5672,"v":3.3},{"x":-10,"y":5672,"v":7.2},{"x":-5,"y":5672,"v":8.5},{"x":0,"y":5672,"v":8.5},{"x":5,"y":5672,"v":8.5},{"x":10,"y":5672,"v":7.2},{"x":15,"y":5672,"v":7.2},{"x":20,"y":5672,"v":5.9},{"x":25,"y":5672,"v":5.9},{"x":30,"y":5672,"v":4.6},
{"x":-30,"y":5526.5,"v":-0.22},{"x":-25,"y":5526.5,"v":-0.22},{"x":-20,"y":5526.5,"v":0.17},{"x":-15,"y":5526.5,"v":2.0},{"x":-10,"y":5526.5,"v":4.6},{"x":-5,"y":5526.5,"v":7.2},{"x":0,"y":5526.5,"v":8.5},{"x":5,"y":5526.5,"v":8.5},{"x":10,"y":5526.5,"v":8.5},{"x":15,"y":5526.5,"v":8.5},{"x":20,"y":5526.5,"v":7.2},{"x":25,"y":5526.5,"v":7.2},{"x":30,"y":5526.5,"v":5.9},
{"x":-30,"y":5381,"v":-0.22},{"x":-25,"y":5381,"v":-0.6},{"x":-20,"y":5381,"v":-0.6},{"x":-15,"y":5381,"v":-0.22},{"x":-10,"y":5381,"v":0.7},{"x":-5,"y":5381,"v":2.0},{"x":0,"y":5381,"v":3.3},{"x":5,"y":5381,"v":5.9},{"x":10,"y":5381,"v":7.2},{"x":15,"y":5381,"v":8.5},{"x":20,"y":5381,"v":8.5},{"x":25,"y":5381,"v":7.2},{"x":30,"y":5381,"v":7.2},
{"x":-30,"y":5235.5,"v":-0.06},{"x":-25,"y":5235.5,"v":-0.22},{"x":-20,"y":5235.5,"v":-0.06},{"x":-15,"y":5235.5,"v":0.7},{"x":-10,"y":5235.5,"v":2.0},{"x":-5,"y":5235.5,"v":7.2},{"x":0,"y":5235.5,"v":7.2},{"x":5,"y":5235.5,"v":8.5},{"x":10,"y":5235.5,"v":7.2},{"x":15,"y":5235.5,"v":7.2},{"x":20,"y":5235.5,"v":5.9},{"x":25,"y":5235.5,"v":4.6},{"x":30,"y":5235.5,"v":3.3},
{"x":-30,"y":5090,"v":-0.22},{"x":-25,"y":5090,"v":-0.22},{"x":-20,"y":5090,"v":-0.22},{"x":-15,"y":5090,"v":2.0},{"x":-10,"y":5090,"v":5.9},{"x":-5,"y":5090,"v":8.5},{"x":0,"y":5090,"v":9.8},{"x":5,"y":5090,"v":9.8},{"x":10,"y":5090,"v":8.5},{"x":15,"y":5090,"v":7.2},{"x":20,"y":5090,"v":4.6},{"x":25,"y":5090,"v":2.0},{"x":30,"y":5090,"v":0.7},
{"x":-30,"y":4944.5,"v":-0.22},{"x":-25,"y":4944.5,"v":-0.06},{"x":-20,"y":4944.5,"v":0.7},{"x":-15,"y":4944.5,"v":3.3},{"x":-10,"y":4944.5,"v":5.9},{"x":-5,"y":4944.5,"v":7.2},{"x":0,"y":4944.5,"v":8.5},{"x":5,"y":4944.5,"v":8.5},{"x":10,"y":4944.5,"v":7.2},{"x":15,"y":4944.5,"v":5.9},{"x":20,"y":4944.5,"v":3.3},{"x":25,"y":4944.5,"v":1.77},{"x":30,"y":4944.5,"v":0.7},
{"x":-30,"y":4799,"v":-0.22},{"x":-25,"y":4799,"v":-0.06},{"x":-20,"y":4799,"v":0.32},{"x":-15,"y":4799,"v":0.7},{"x":-10,"y":4799,"v":1.77},{"x":-5,"y":4799,"v":2.0},{"x":0,"y":4799,"v":3.3},{"x":5,"y":4799,"v":3.3},{"x":10,"y":4799,"v":3.3},{"x":15,"y":4799,"v":2.0},{"x":20,"y":4799,"v":1.16},{"x":25,"y":4799,"v":0.7},{"x":30,"y":4799,"v":0.55},
{"x":-30,"y":4653.5,"v":-0.22},{"x":-25,"y":4653.5,"v":-0.06},{"x":-20,"y":4653.5,"v":0.17},{"x":-15,"y":4653.5,"v":0.32},{"x":-10,"y":4653.5,"v":0.55},{"x":-5,"y":4653.5,"v":0.7},{"x":0,"y":4653.5,"v":0.7},{"x":5,"y":4653.5,"v":0.7},{"x":10,"y":4653.5,"v":0.7},{"x":15,"y":4653.5,"v":0.55},{"x":20,"y":4653.5,"v":0.32},{"x":25,"y":4653.5,"v":0.17},{"x":30,"y":4653.5,"v":-0.06},
{"x":-30,"y":4508,"v":-0.22},{"x":-25,"y":4508,"v":-0.22},{"x":-20,"y":4508,"v":-0.22},{"x":-15,"y":4508,"v":-0.06},{"x":-10,"y":4508,"v":0.17},{"x":-5,"y":4508,"v":0.32},{"x":0,"y":4508,"v":0.32},{"x":5,"y":4508,"v":0.17},{"x":10,"y":4508,"v":-0.06},{"x":15,"y":4508,"v":-0.22},{"x":20,"y":4508,"v":-0.22},{"x":25,"y":4508,"v":-0.22},{"x":30,"y":4508,"v":-0.22}
],
"p3":[
{"y":8000,"x":-10.2,"lo":-13.4,"hi":-7.0,"t":"o"},
{"y":7854.5,"x":6.9,"lo":-4.3,"hi":18.0,"t":"o"},
{"y":7709,"x":24.9,"lo":11.5,"hi":38.3,"t":"o"},
{"y":7563.5,"x":12.8,"lo":9.8,"hi":15.8,"t":"o"},
{"y":7418,"x":7.7,"lo":5.2,"hi":10.2,"t":"o"},
{"y":7272.5,"x":3.9,"lo":2.6,"hi":5.2,"t":"f"},
{"y":7127,"x":0.9,"lo":-0.2,"hi":2.0,"t":"f"},
{"y":6981.5,"x":-0.1,"lo":-1.2,"hi":1.0,"t":"o"},
{"y":6836,"x":-1.1,"lo":-2.4,"hi":0.2,"t":"o"},
{"y":6690.5,"x":1.0,"lo":-0.5,"hi":2.5,"t":"o"},
{"y":6545,"x":14.9,"lo":12.7,"hi":17.1,"t":"o"},
{"y":6399.5,"x":14.9,"lo":13.7,"hi":16.1,"t":"o"},
{"y":6254,"x":14.9,"lo":13.7,"hi":16.1,"t":"f"},
{"y":6108.5,"x":8.9,"lo":7.6,"hi":10.2,"t":"f"},
{"y":5963,"x":5.8,"lo":4.65,"hi":6.95,"t":"f"},
{"y":5817.5,"x":5.9,"lo":5.0,"hi":6.8,"t":"f"},
{"y":5672,"x":9.1,"lo":8.8,"hi":9.4,"t":"f"},
{"y":5526.5,"x":13.0,"lo":12.7,"hi":13.3,"t":"f"},
{"y":5381,"x":19.1,"lo":18.8,"hi":19.4,"t":"f"},
{"y":5235.5,"x":10.9,"lo":10.6,"hi":11.2,"t":"f"},
{"y":5090,"x":8.0,"lo":7.7,"hi":8.3,"t":"f"},
{"y":4944.5,"x":7.1,"lo":6.8,"hi":7.4,"t":"f"},
{"y":4799,"x":11.9,"lo":10.7,"hi":13.1,"t":"f"},
{"y":4653.5,"x":20.0,"lo":6.3,"hi":33.7,"t":"o"},
{"y":4508,"x":-4.0,"lo":-12.0,"hi":3.6,"t":"o"}
],
"c3":[
{"y":8073,"x":-1.44},{"y":7932,"x":-1.25},{"y":7777,"x":-0.97},{"y":7623,"x":-0.8},{"y":7312,"x":-0.8},{"y":7003,"x":-0.8},{"y":6848,"x":-0.6},{"y":6693,"x":-0.33},{"y":6538,"x":-0.05},{"y":6383,"x":0.3},{"y":6197,"x":0.86},{"y":6043,"x":1.5},{"y":5888,"x":2.0},{"y":5732,"x":2.16},{"y":5423,"x":2.16},{"y":5268,"x":2.4},{"y":5113,"x":2.7},{"y":4958,"x":2.9},{"y":4803,"x":2.7},{"y":4710,"x":2.16},{"y":4617,"x":1.3},{"y":4524,"x":0.4},{"y":4435,"x":-0.05}
]
},
"hconcat":[
{
"title":"891 L\u00a0 SITE 49 CL 1","width":235,"height":391,
"resolve":{"axis":{"x":"independent","y":"independent"}},
"layer":[
{"data":{"name":"h1"},"mark":{"type":"rect","binSpacing":0},
"encoding":{
"x":{"field":"x","type":"quantitative","bin":{"step":5,"extent":[-32.5,32.5],"nice":false},"scale":{"domain":[-32.5,32.5],"nice":false,"zero":false},"axis":null},
"y":{"field":"y","type":"quantitative","bin":{"step":322.5,"extent":[2394.75,10779.75],"nice":false},"scale":{"domain":[2394.75,10779.75],"nice":false,"zero":false},"axis":null},
"color":{"field":"v","type":"quantitative","scale":{"domain":[-2.03,2.83],"range":["#ffffff","#505050"],"interpolate":"rgb"},
"legend":{"title":null,"orient":"right","offset":16,"padding":1.5,"direction":"vertical","gradientLength":388,"gradientThickness":15,"gradientStrokeColor":"black","gradientStrokeWidth":1.5,"values":[-2,-1.5,-1,-0.5,0,0.5,1,1.5,2,2.5],"labelExpr":"'' + datum.value","labelFontSize":16,"labelFont":"Liberation Sans","labelColor":"black","labelOffset":4,"labelOverlap":false}}}},
{"data":{"name":"c1"},"mark":{"type":"line","color":"black","strokeWidth":1.5,"clip":true},
"encoding":{
"x":{"field":"x","type":"quantitative","scale":{"domain":[-32.5,32.5],"nice":false,"zero":false},"axis":{"orient":"bottom","values":[-20,0,20],"labelExpr":"'' + datum.value","title":null,"labelPadding":15}},
"y":{"field":"y","type":"quantitative","scale":{"domain":[2394.75,10779.75],"nice":false,"zero":false},"axis":{"orient":"left","values":[3000,4000,5000,6000,7000,8000,9000,10000],"labelExpr":"'' + datum.value","title":null,"labelPadding":8}},
"order":{"field":"y","type":"quantitative"}}},
{"data":{"name":"p1"},"mark":{"type":"rule","clip":true},
"encoding":{
"x":{"field":"lo","type":"quantitative","scale":{"domain":[-32.5,32.5],"nice":false,"zero":false},"axis":null},
"x2":{"field":"hi"},
"y":{"field":"y","type":"quantitative","scale":{"domain":[2394.75,10779.75],"nice":false,"zero":false},"axis":null},
"color":{"condition":{"test":"datum.t == 'o'","value":"#707070"},"value":"black"},
"strokeWidth":{"condition":{"test":"datum.t == 'o'","value":1.2},"value":1.8}}},
{"data":{"name":"p1"},"mark":{"type":"tick","orient":"vertical","size":7,"thickness":1.3,"clip":true},
"encoding":{
"x":{"field":"lo","type":"quantitative","scale":{"domain":[-32.5,32.5],"nice":false,"zero":false},"axis":null},
"y":{"field":"y","type":"quantitative","scale":{"domain":[2394.75,10779.75],"nice":false,"zero":false},"axis":null},
"color":{"condition":{"test":"datum.t == 'o'","value":"#707070"},"value":"black"}}},
{"data":{"name":"p1"},"mark":{"type":"tick","orient":"vertical","size":7,"thickness":1.3,"clip":true},
"encoding":{
"x":{"field":"hi","type":"quantitative","scale":{"domain":[-32.5,32.5],"nice":false,"zero":false},"axis":null},
"y":{"field":"y","type":"quantitative","scale":{"domain":[2394.75,10779.75],"nice":false,"zero":false},"axis":null},
"color":{"condition":{"test":"datum.t == 'o'","value":"#707070"},"value":"black"}}},
{"data":{"name":"p1"},"transform":[{"filter":"datum.t == 'o'"}],"mark":{"type":"point","shape":"square","filled":false,"size":50,"strokeWidth":1.2,"color":"#707070"},
"encoding":{
"x":{"field":"x","type":"quantitative","scale":{"domain":[-32.5,32.5],"nice":false,"zero":false},"axis":null},
"y":{"field":"y","type":"quantitative","scale":{"domain":[2394.75,10779.75],"nice":false,"zero":false},"axis":null}}},
{"data":{"name":"p1"},"transform":[{"filter":"datum.t == 'f'"}],"mark":{"type":"point","shape":"circle","filled":true,"size":28,"color":"black","opacity":1},
"encoding":{
"x":{"field":"x","type":"quantitative","scale":{"domain":[-32.5,32.5],"nice":false,"zero":false},"axis":{"orient":"top","values":[-20,0,20],"labels":false,"title":null}},
"y":{"field":"y","type":"quantitative","scale":{"domain":[2394.75,10779.75],"nice":false,"zero":false},"axis":{"orient":"right","values":[3000,4000,5000,6000,7000,8000,9000,10000],"labels":false,"title":null}}}}
]
},
{
"title":"891 L\u00a0 SITE 8 CL 1","width":235,"height":391,
"resolve":{"axis":{"x":"independent","y":"independent"}},
"layer":[
{"data":{"name":"h2"},"mark":{"type":"rect","binSpacing":0},
"encoding":{
"x":{"field":"x","type":"quantitative","bin":{"step":5.909090909090909,"extent":[-32.5,32.5],"nice":false},"scale":{"domain":[-32.5,32.5],"nice":false,"zero":false},"axis":null},
"y":{"field":"y","type":"quantitative","bin":{"step":300,"extent":[2850,9150],"nice":false},"scale":{"domain":[2850,9150],"nice":false,"zero":false},"axis":null},
"color":{"field":"v","type":"quantitative","scale":{"domain":[-1.1,6.6],"range":["#ffffff","#505050"],"interpolate":"rgb"},
"legend":{"title":null,"orient":"right","offset":16,"padding":1.5,"direction":"vertical","gradientLength":388,"gradientThickness":15,"gradientStrokeColor":"black","gradientStrokeWidth":1.5,"values":[-1,0,1,2,3,4,5,6],"labelExpr":"'' + datum.value","labelFontSize":16,"labelFont":"Liberation Sans","labelColor":"black","labelOffset":4,"labelOverlap":false}}}},
{"data":{"name":"c2"},"mark":{"type":"line","color":"black","strokeWidth":1.5,"clip":true},
"encoding":{
"x":{"field":"x","type":"quantitative","scale":{"domain":[-32.5,32.5],"nice":false,"zero":false},"axis":{"orient":"bottom","values":[-20,0,20],"labelExpr":"'' + datum.value","title":null,"labelPadding":15}},
"y":{"field":"y","type":"quantitative","scale":{"domain":[2850,9150],"nice":false,"zero":false},"axis":{"orient":"left","values":[3000,4000,5000,6000,7000,8000,9000],"labelExpr":"'' + datum.value","title":null,"labelPadding":16}},
"order":{"field":"y","type":"quantitative"}}},
{"data":{"name":"p2"},"mark":{"type":"rule","clip":true},
"encoding":{
"x":{"field":"lo","type":"quantitative","scale":{"domain":[-32.5,32.5],"nice":false,"zero":false},"axis":null},
"x2":{"field":"hi"},
"y":{"field":"y","type":"quantitative","scale":{"domain":[2850,9150],"nice":false,"zero":false},"axis":null},
"color":{"condition":{"test":"datum.t == 'o'","value":"#707070"},"value":"black"},
"strokeWidth":{"condition":{"test":"datum.t == 'o'","value":1.2},"value":1.8}}},
{"data":{"name":"p2"},"mark":{"type":"tick","orient":"vertical","size":7,"thickness":1.3,"clip":true},
"encoding":{
"x":{"field":"lo","type":"quantitative","scale":{"domain":[-32.5,32.5],"nice":false,"zero":false},"axis":null},
"y":{"field":"y","type":"quantitative","scale":{"domain":[2850,9150],"nice":false,"zero":false},"axis":null},
"color":{"condition":{"test":"datum.t == 'o'","value":"#707070"},"value":"black"}}},
{"data":{"name":"p2"},"mark":{"type":"tick","orient":"vertical","size":7,"thickness":1.3,"clip":true},
"encoding":{
"x":{"field":"hi","type":"quantitative","scale":{"domain":[-32.5,32.5],"nice":false,"zero":false},"axis":null},
"y":{"field":"y","type":"quantitative","scale":{"domain":[2850,9150],"nice":false,"zero":false},"axis":null},
"color":{"condition":{"test":"datum.t == 'o'","value":"#707070"},"value":"black"}}},
{"data":{"name":"p2"},"transform":[{"filter":"datum.t == 'o'"}],"mark":{"type":"point","shape":"square","filled":false,"size":50,"strokeWidth":1.2,"color":"#707070"},
"encoding":{
"x":{"field":"x","type":"quantitative","scale":{"domain":[-32.5,32.5],"nice":false,"zero":false},"axis":null},
"y":{"field":"y","type":"quantitative","scale":{"domain":[2850,9150],"nice":false,"zero":false},"axis":null}}},
{"data":{"name":"p2"},"transform":[{"filter":"datum.t == 'f'"}],"mark":{"type":"point","shape":"circle","filled":true,"size":28,"color":"black","opacity":1},
"encoding":{
"x":{"field":"x","type":"quantitative","scale":{"domain":[-32.5,32.5],"nice":false,"zero":false},"axis":{"orient":"top","values":[-20,0,20],"labels":false,"title":null}},
"y":{"field":"y","type":"quantitative","scale":{"domain":[2850,9150],"nice":false,"zero":false},"axis":{"orient":"right","values":[3000,4000,5000,6000,7000,8000,9000],"labels":false,"title":null}}}}
]
},
{
"title":"891 L\u00a0 SITE 23 CL 1","width":235,"height":391,
"resolve":{"axis":{"x":"independent","y":"independent"}},
"layer":[
{"data":{"name":"h3"},"mark":{"type":"rect","binSpacing":0},
"encoding":{
"x":{"field":"x","type":"quantitative","bin":{"step":5,"extent":[-32.5,32.5],"nice":false},"scale":{"domain":[-32.5,32.5],"nice":false,"zero":false},"axis":null},
"y":{"field":"y","type":"quantitative","bin":{"step":145.5,"extent":[4435.25,8072.75],"nice":false},"scale":{"domain":[4435.25,8072.75],"nice":false,"zero":false},"axis":null},
"color":{"field":"v","type":"quantitative","scale":{"domain":[-0.6,12.8],"range":["#ffffff","#505050"],"interpolate":"rgb"},
"legend":{"title":null,"orient":"right","offset":16,"padding":1.5,"direction":"vertical","gradientLength":388,"gradientThickness":15,"gradientStrokeColor":"black","gradientStrokeWidth":1.5,"values":[0,2,4,6,8,10,12],"labelExpr":"'' + datum.value","labelFontSize":16,"labelFont":"Liberation Sans","labelColor":"black","labelOffset":4,"labelOverlap":false}}}},
{"data":{"name":"c3"},"mark":{"type":"line","color":"black","strokeWidth":1.5,"clip":true},
"encoding":{
"x":{"field":"x","type":"quantitative","scale":{"domain":[-32.5,32.5],"nice":false,"zero":false},"axis":{"orient":"bottom","values":[-20,0,20],"labelExpr":"'' + datum.value","title":null,"labelPadding":15}},
"y":{"field":"y","type":"quantitative","scale":{"domain":[4435.25,8072.75],"nice":false,"zero":false},"axis":{"orient":"left","values":[4500,5000,5500,6000,6500,7000,7500,8000],"labelExpr":"'' + datum.value","title":null,"labelPadding":15}},
"order":{"field":"y","type":"quantitative"}}},
{"data":{"name":"p3"},"mark":{"type":"rule","clip":true},
"encoding":{
"x":{"field":"lo","type":"quantitative","scale":{"domain":[-32.5,32.5],"nice":false,"zero":false},"axis":null},
"x2":{"field":"hi"},
"y":{"field":"y","type":"quantitative","scale":{"domain":[4435.25,8072.75],"nice":false,"zero":false},"axis":null},
"color":{"condition":{"test":"datum.t == 'o'","value":"#707070"},"value":"black"},
"strokeWidth":{"condition":{"test":"datum.t == 'o'","value":1.2},"value":1.8}}},
{"data":{"name":"p3"},"mark":{"type":"tick","orient":"vertical","size":7,"thickness":1.3,"clip":true},
"encoding":{
"x":{"field":"lo","type":"quantitative","scale":{"domain":[-32.5,32.5],"nice":false,"zero":false},"axis":null},
"y":{"field":"y","type":"quantitative","scale":{"domain":[4435.25,8072.75],"nice":false,"zero":false},"axis":null},
"color":{"condition":{"test":"datum.t == 'o'","value":"#707070"},"value":"black"}}},
{"data":{"name":"p3"},"mark":{"type":"tick","orient":"vertical","size":7,"thickness":1.3,"clip":true},
"encoding":{
"x":{"field":"hi","type":"quantitative","scale":{"domain":[-32.5,32.5],"nice":false,"zero":false},"axis":null},
"y":{"field":"y","type":"quantitative","scale":{"domain":[4435.25,8072.75],"nice":false,"zero":false},"axis":null},
"color":{"condition":{"test":"datum.t == 'o'","value":"#707070"},"value":"black"}}},
{"data":{"name":"p3"},"transform":[{"filter":"datum.t == 'o'"}],"mark":{"type":"point","shape":"square","filled":false,"size":50,"strokeWidth":1.2,"color":"#707070"},
"encoding":{
"x":{"field":"x","type":"quantitative","scale":{"domain":[-32.5,32.5],"nice":false,"zero":false},"axis":null},
"y":{"field":"y","type":"quantitative","scale":{"domain":[4435.25,8072.75],"nice":false,"zero":false},"axis":null}}},
{"data":{"name":"p3"},"transform":[{"filter":"datum.t == 'f'"}],"mark":{"type":"point","shape":"circle","filled":true,"size":28,"color":"black","opacity":1},
"encoding":{
"x":{"field":"x","type":"quantitative","scale":{"domain":[-32.5,32.5],"nice":false,"zero":false},"axis":{"orient":"top","values":[-20,0,20],"labels":false,"title":null}},
"y":{"field":"y","type":"quantitative","scale":{"domain":[4435.25,8072.75],"nice":false,"zero":false},"axis":{"orient":"right","values":[4500,5000,5500,6000,6500,7000,7500,8000],"labels":false,"title":null}}}}
]
}
]
}
